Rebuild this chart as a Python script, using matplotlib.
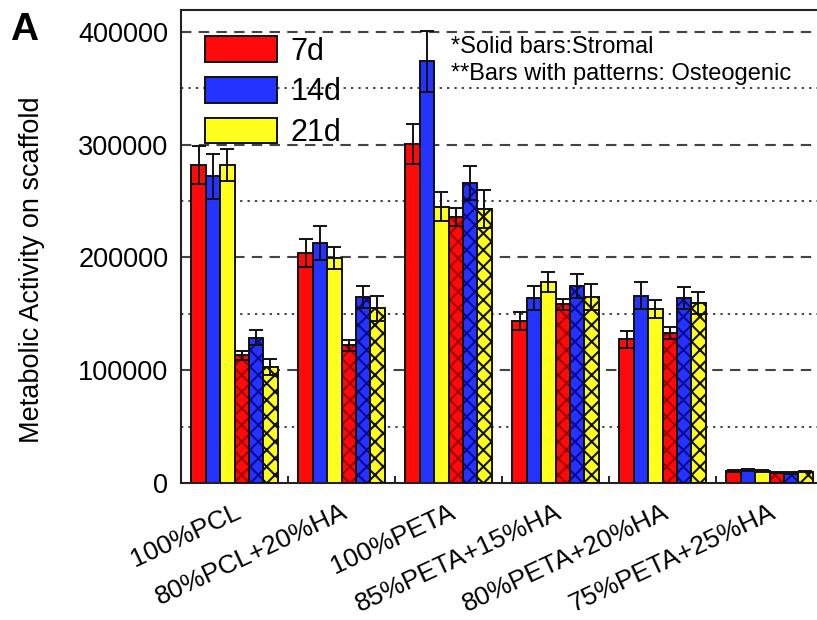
import matplotlib
matplotlib.use("Agg")
import matplotlib.pyplot as plt
import numpy as np

plt.rcParams['font.family'] = ['Liberation Sans', 'DejaVu Sans']
plt.rcParams['hatch.linewidth'] = 1.5

# Scaffold compositions
categories = ["100%PCL", "80%PCL+20%HA", "100%PETA",
              "85%PETA+15%HA", "80%PETA+20%HA", "75%PETA+25%HA"]

# Stromal (solid) and osteogenic (patterned) metabolic activity, mean and error
stromal_7d = [282000, 204000, 300500, 143500, 127500, 10600]
stromal_14d = [272000, 213000, 374000, 164000, 166000, 11800]
stromal_21d = [282000, 199500, 245000, 178500, 154000, 10600]
osteo_7d = [113500, 122000, 236000, 158500, 133000, 9200]
osteo_14d = [129000, 165000, 266000, 174500, 164000, 9000]
osteo_21d = [103000, 155000, 243000, 165000, 159500, 10000]

err_stromal_7d = [17000, 12000, 18000, 8000, 7500, 800]
err_stromal_14d = [20000, 15000, 27000, 11000, 12000, 800]
err_stromal_21d = [14000, 10000, 13000, 9000, 8000, 800]
err_osteo_7d = [4000, 5000, 8000, 5000, 5000, 600]
err_osteo_14d = [7000, 10000, 15000, 10500, 10000, 600]
err_osteo_21d = [7000, 11000, 17000, 11500, 10000, 600]

day_labels = ["7d", "14d", "21d"]
y_ticks = [0, 100000, 200000, 300000, 400000]

series = [stromal_7d, stromal_14d, stromal_21d, osteo_7d, osteo_14d, osteo_21d]
errors = [err_stromal_7d, err_stromal_14d, err_stromal_21d,
          err_osteo_7d, err_osteo_14d, err_osteo_21d]
face = ["#ff0a0a", "#2433ff", "#ffff1e"] * 2
hatch_col = [None, None, None, "#a30000", "#0a0a90", "#111111"]

fig = plt.figure(figsize=(8.17, 6.2), dpi=100)
W, H = 817, 620
ax = fig.add_axes([181 / W, 137 / H, 642 / W, (483 - 10) / H])

x = np.arange(1, len(categories) + 1)
w = 0.804 / 6

for gy in [50000, 150000, 250000, 350000]:
    ax.axhline(gy, color="#444444", lw=1.4, ls=(0, (1.2, 2.6)), zorder=0)
for gy in [100000, 200000, 300000, 400000]:
    ax.axhline(gy, color="#444444", lw=1.5, ls=(0, (5, 3.5)), zorder=0)

handles = []
for j, (vals, errs) in enumerate(zip(series, errors)):
    pos = x + (j - 2.5) * w
    if hatch_col[j] is None:
        b = ax.bar(pos, vals, width=w, color=face[j], edgecolor="#111111",
                   linewidth=1.4, zorder=2)
        handles.append(b)
    else:
        ax.bar(pos, vals, width=w, color=face[j], edgecolor=hatch_col[j],
               hatch="xx", linewidth=0, zorder=2)
        ax.bar(pos, vals, width=w, fill=False, edgecolor="#111111",
               linewidth=1.4, zorder=3)
    ax.errorbar(pos, vals, yerr=errs, fmt="none", ecolor="#111111",
                elinewidth=1.4, capsize=5, capthick=1.4, zorder=4)

ax.set_xlim(0.5, 6.5)
ax.set_ylim(0, 419500)
ax.set_yticks(y_ticks)
ax.set_yticklabels([str(v) for v in y_ticks])
ax.set_xticks(x)
ax.set_xticklabels(categories, rotation=25, ha="right", rotation_mode="anchor")
ax.set_xticks(x[:-1] + 0.5, minor=True)
ax.tick_params(axis="x", which="major", length=0, pad=12, labelsize=19)
ax.tick_params(axis="x", which="minor", length=5, direction="in", width=1.2)
ax.tick_params(axis="y", length=0, pad=9, labelsize=19.5)
for s in ax.spines.values():
    s.set_linewidth(1.5)
    s.set_color("#222222")

fig.text(32 / W, 1 - 270 / H, "Metabolic Activity on scaffold", rotation=90,
         ha="center", va="center", fontsize=19.5)

ax.legend(handles, day_labels, loc="upper left", frameon=False,
          bbox_to_anchor=(190 / W, 1 - 21 / H), bbox_transform=fig.transFigure,
          fontsize=22, handlelength=2.35, handleheight=0.9, handletextpad=0.45,
          labelspacing=0.35, borderpad=0)

fig.text(451 / W, 1 - 53 / H, "*Solid bars:Stromal", fontsize=17, va="baseline")
fig.text(451 / W, 1 - 80 / H, "**Bars with patterns: Osteogenic", fontsize=17,
         va="baseline")
fig.text(10 / W, 1 - 40 / H, "A", fontsize=28, fontweight="bold", va="baseline")

fig.savefig("out.png", dpi=100)
